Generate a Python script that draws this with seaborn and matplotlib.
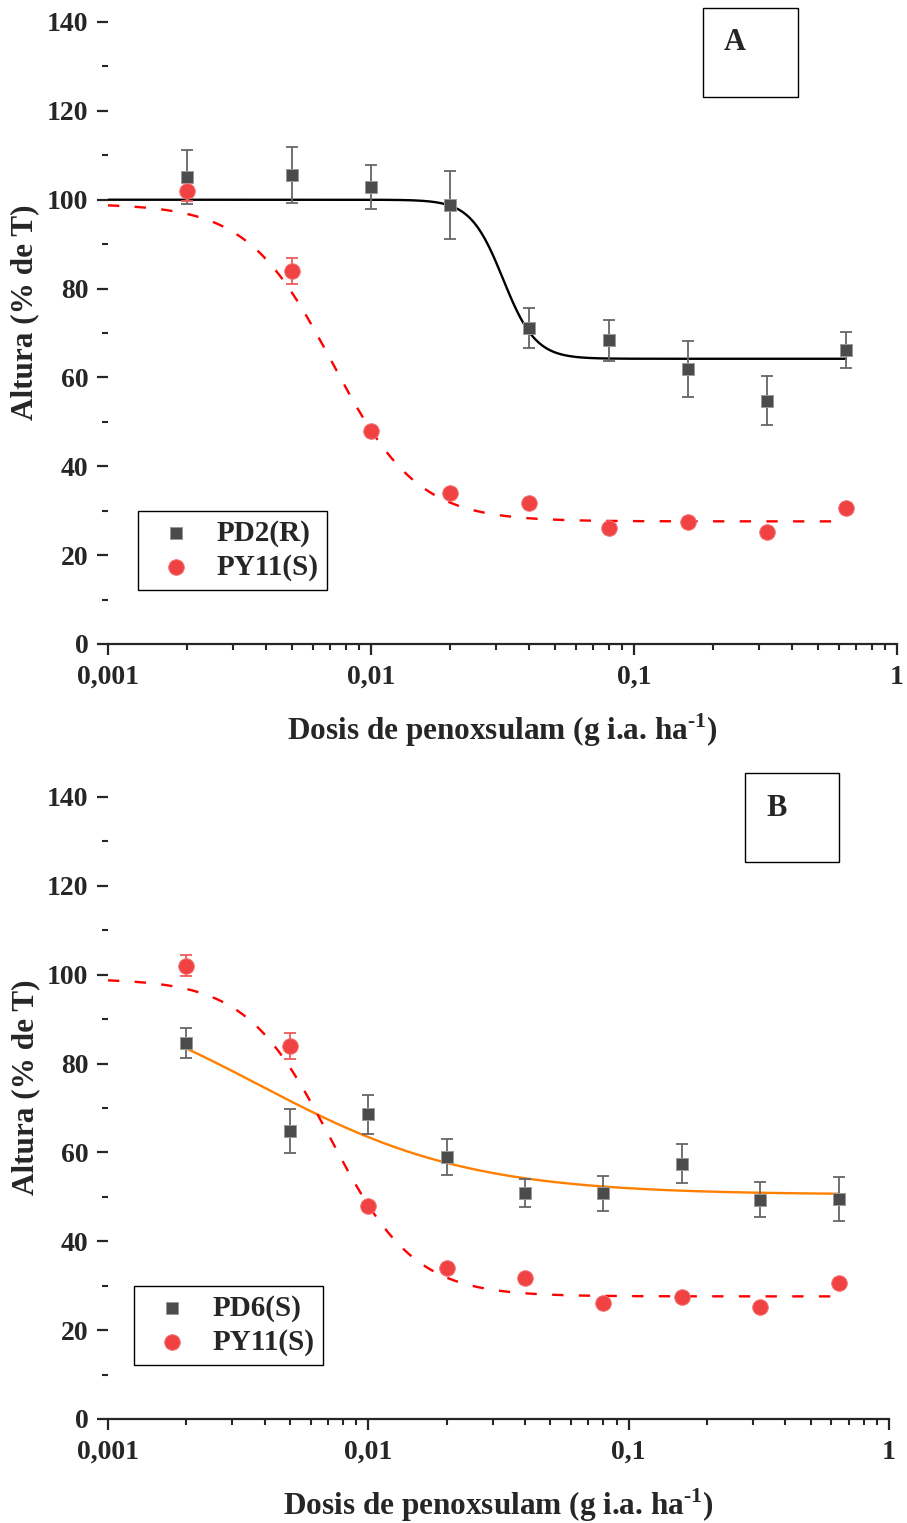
import numpy as np
import pandas as pd
import matplotlib
matplotlib.use("Agg")
import matplotlib.pyplot as plt
from matplotlib.patches import Rectangle
from matplotlib.ticker import FixedLocator, NullFormatter
import seaborn as sns

# ---- data -------------------------------------------------------------
doses = [0.002, 0.005, 0.01, 0.02, 0.04, 0.08, 0.16, 0.32, 0.64]

pd2_mean = [105.1, 105.6, 102.9, 98.8, 71.1, 68.4, 61.9, 54.8, 66.2]
pd2_err = [6.0, 6.3, 5.0, 7.7, 4.5, 4.6, 6.2, 5.6, 4.0]

py11_mean = [102.0, 84.0, 47.9, 34.0, 31.7, 26.2, 27.5, 25.1, 30.5]
py11_err = [2.4, 2.9, 0.8, 0.6, 0.6, 0.6, 0.6, 0.6, 0.6]

pd6_mean = [84.6, 64.8, 68.6, 59.0, 50.9, 50.8, 57.5, 49.4, 49.5]
pd6_err = [3.3, 4.9, 4.4, 4.0, 3.2, 4.0, 4.4, 4.0, 4.9]

# log-logistic fits: slope b, lower c, upper d, ED50 e
fit_pd2 = [7.0, 64.2, 100.0, 0.0318]
fit_py11 = [2.68, 27.6, 99.1, 0.00712]
fit_pd6 = [1.07, 50.5, 100.0, 0.00379]

# dose range each fitted curve spans
range_pd2 = [0.001, 0.64]
range_py11 = [0.001, 0.64]
range_pd6 = [0.002, 0.64]

xtick_vals = [0.001, 0.01, 0.1, 1]
xtick_labels = ["0,001", "0,01", "0,1", "1"]
ytick_vals = [0, 20, 40, 60, 80, 100, 120, 140]

# ---- style ------------------------------------------------------------
sns.set_style("ticks")
plt.rcParams["font.family"] = ["Liberation Serif", "DejaVu Serif"]
plt.rcParams["font.weight"] = "bold"
plt.rcParams["mathtext.fontset"] = "custom"
plt.rcParams["mathtext.rm"] = "Liberation Serif:bold"
plt.rcParams["mathtext.bf"] = "Liberation Serif:bold"

SQ_COLOR = "#4b4b4b"
RED = "#f04242"


def loglogistic(x, p):
    b, c, d, e = p
    return c + (d - c) / (1.0 + (x / e) ** b)


def curve(ax, p, rng, color, ls):
    xs = np.logspace(np.log10(rng[0]), np.log10(rng[1]), 400)
    df = pd.DataFrame({"x": xs, "y": loglogistic(xs, p)})
    sns.lineplot(data=df, x="x", y="y", ax=ax, color=color, lw=1.7,
                 sort=False, estimator=None, legend=False, zorder=2)
    if ls == "dashed":
        ax.lines[-1].set_dashes((4.8, 6.5))


def points(ax, mean, err, marker, color, edge, size, ecolor, label):
    ax.errorbar(doses, mean, yerr=err, fmt="none", ecolor=ecolor,
                elinewidth=1.3, capsize=4.5, capthick=1.3, zorder=3)
    df = pd.DataFrame({"dose": doses, "val": mean})
    sns.scatterplot(data=df, x="dose", y="val", ax=ax, marker=marker,
                    color=color, edgecolor=edge, linewidth=0.7, s=size,
                    label=label, zorder=4)


def style_axes(ax, xmax):
    ax.set_xscale("log")
    ax.set_xlim(0.001, xmax)
    ax.set_ylim(0, 140)
    ax.set_xticks(xtick_vals)
    ax.set_xticklabels(xtick_labels)
    minors = [m * 10.0 ** k for k in (-3, -2, -1) for m in range(2, 10)]
    ax.xaxis.set_minor_locator(FixedLocator(minors))
    ax.xaxis.set_minor_formatter(NullFormatter())
    ax.set_yticks(ytick_vals)
    ax.yaxis.set_minor_locator(FixedLocator(list(range(10, 140, 20))))
    for s in ("top", "right", "left"):
        ax.spines[s].set_visible(False)
    ax.spines["bottom"].set_linewidth(1.6)
    ax.tick_params(axis="both", which="major", length=8, width=1.6,
                   labelsize=20, direction="out")
    ax.tick_params(axis="x", which="major", pad=7)
    ax.tick_params(axis="y", which="major", pad=6)
    ax.tick_params(axis="both", which="minor", length=4.5, width=1.5,
                   direction="out")
    for lab in ax.get_xticklabels() + ax.get_yticklabels():
        lab.set_fontweight("bold")
    ax.set_ylabel("Altura (% de T)", fontsize=22.5, fontweight="bold")
    ax.set_xlabel(r"Dosis de penoxsulam (g i.a. ha$^{\text{-1}}$)",
                  fontsize=22.5, fontweight="bold")
    ax.yaxis.set_label_coords(-0.105, 0.534)
    ax.xaxis.set_label_coords(0.5, -0.139)
    ax.xaxis.label.set_va("center")
    ax.yaxis.label.set_va("center")


def legend(ax, x0):
    leg = ax.legend(loc="lower left", bbox_to_anchor=(x0, 0.087),
                    borderaxespad=0, fancybox=False, frameon=True,
                    edgecolor="black", framealpha=1,
                    prop={"family": "Liberation Serif", "weight": "bold",
                          "size": 21},
                    borderpad=0.3, labelspacing=0.22, handlelength=2.0,
                    handletextpad=0.4)
    leg.get_frame().set_linewidth(1.0)


def panel_tag(fig, letter, x0, y0, w, h):
    W, H = 907.0, 1523.0
    fig.add_artist(Rectangle((x0 / W, 1 - (y0 + h) / H), w / W, h / H,
                             transform=fig.transFigure, fill=False,
                             ec="black", lw=1.0))
    fig.text((x0 + 32) / W, 1 - (y0 + 35) / H, letter, fontsize=22,
             fontweight="bold", ha="center", va="center")


fig = plt.figure(figsize=(9.07, 15.23), dpi=100)
W, H = 907.0, 1523.0
axA = fig.add_axes([108 / W, 1 - 644 / H, 789 / W, 622 / H])
axB = fig.add_axes([108 / W, 1 - 1419 / H, 781 / W, 622 / H])

# panel A
curve(axA, fit_pd2, range_pd2, "black", "solid")
curve(axA, fit_py11, range_py11, "#ff0000", "dashed")
points(axA, pd2_mean, pd2_err, "s", SQ_COLOR, "#9a9a9a", 78, "#666666",
       "PD2(R)")
points(axA, py11_mean, py11_err, "o", RED, "#f37070", 125, "#f05a5a",
       "PY11(S)")
style_axes(axA, 1.0)
legend(axA, 0.038)

# panel B
curve(axB, fit_pd6, range_pd6, "#ff8000", "solid")
curve(axB, fit_py11, range_py11, "#ff0000", "dashed")
points(axB, pd6_mean, pd6_err, "s", SQ_COLOR, "#9a9a9a", 78, "#666666",
       "PD6(S)")
points(axB, py11_mean, py11_err, "o", RED, "#f37070", 125, "#f05a5a",
       "PY11(S)")
style_axes(axB, 1.0)
legend(axB, 0.033)

panel_tag(fig, "A", 703, 8, 95, 89)
panel_tag(fig, "B", 745, 773, 94, 89)

fig.savefig("out.png", dpi=100)
